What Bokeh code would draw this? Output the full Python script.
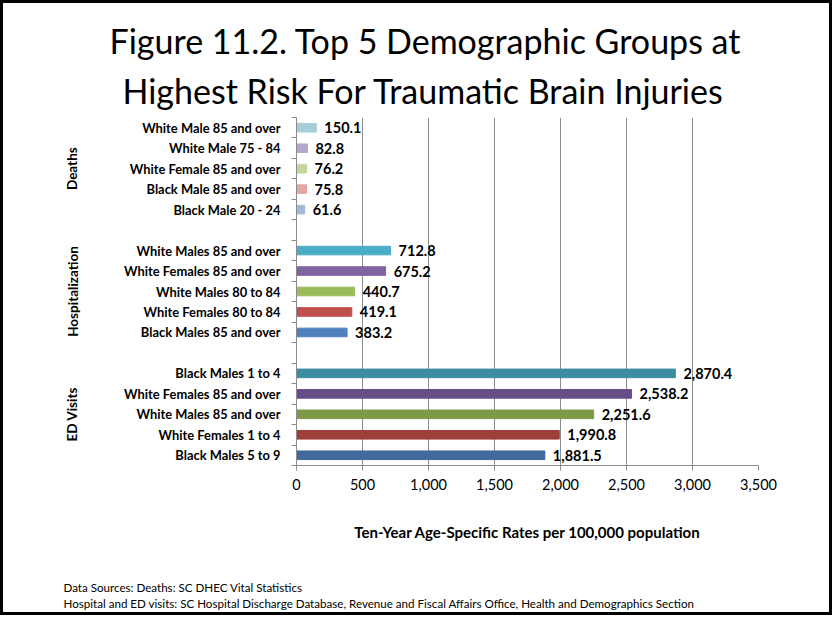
from bokeh.plotting import figure
from bokeh.models import (Range1d, FixedTicker, NumeralTickFormatter, Title,
                          LinearAxis, ColumnDataSource)
from bokeh.core.properties import value
from bokeh.embed import file_html
from bokeh.resources import INLINE

# ---------------- data ----------------
groups = ["Deaths", "Hospitalization", "ED Visits"]

deaths_labels = ["White Male 85 and over", "White Male 75 - 84",
                 "White Female 85 and over", "Black Male 85 and over",
                 "Black Male 20 - 24"]
deaths_values = [150.1, 82.8, 76.2, 75.8, 61.6]
deaths_colors = ["#A5CEDB", "#B4A9CB", "#C4D79D", "#E4A6A5", "#A7B9D9"]

hosp_labels = ["White Males 85 and over", "White Females 85 and over",
               "White Males 80 to 84", "White Females 80 to 84",
               "Black Males 85 and over"]
hosp_values = [712.8, 675.2, 440.7, 419.1, 383.2]
hosp_colors = ["#4BACC6", "#8064A2", "#9BBB59", "#C0504D", "#4F81BD"]

ed_labels = ["Black Males 1 to 4", "White Females 85 and over",
             "White Males 85 and over", "White Females 1 to 4",
             "Black Males 5 to 9"]
ed_values = [2870.4, 2538.2, 2251.6, 1990.8, 1881.5]
ed_colors = ["#3C8DA4", "#664D87", "#7F9A46", "#9E3F3C", "#41699E"]

x_ticks = [0, 500, 1000, 1500, 2000, 2500, 3000, 3500]
x_title = "Ten-Year Age-Specific Rates per 100,000 population"
title_lines = ["Figure 11.2. Top 5 Demographic Groups at",
               "Highest Risk For Traumatic Brain Injuries"]
source_lines = ["Data Sources:  Deaths:  SC DHEC Vital Statistics",
                "Hospital and ED visits:  SC Hospital Discharge Database, Revenue and Fiscal Affairs Office, Health and Demographics Section"]

# ---------------- rows (top group first, one blank row between groups) ----------------
group_data = [(deaths_labels, deaths_values, deaths_colors),
              (hosp_labels, hosp_values, hosp_colors),
              (ed_labels, ed_values, ed_colors)]
n_rows = sum(len(g[0]) for g in group_data) + len(group_data) - 1  # 17

ys, labels, vals, cols, group_centers = [], [], [], [], []
row = n_rows
for gl, gv, gc in group_data:
    start = row
    for lab, v, c in zip(gl, gv, gc):
        ys.append(row - 0.5); labels.append(lab); vals.append(v); cols.append(c)
        row -= 1
    group_centers.append((start + row) / 2.0)
    row -= 1

src = ColumnDataSource(dict(y=ys, v=vals, c=cols, lab=labels,
                            txt=[format(v, ",.1f") for v in vals]))

FONT = "Lato"
B = 3                                   # outer border width
W, H = 838 - 2 * B, 621 - 2 * B
FL, FR, FT, FB = 296 - B, 758 - B, 117 - B, 465 - B   # frame edges (canvas px)
XMAX = 3500
p = figure(width=W, height=H, output_backend="svg", toolbar_location=None,
           x_range=Range1d(0, XMAX), y_range=Range1d(0, n_rows),
           min_border_left=FL, min_border_right=W - FR,
           min_border_top=FT, min_border_bottom=H - FB,
           background_fill_color="white", border_fill_color="white")
p.outline_line_color = None
p.styles = {"border": f"{B}px solid black"}

p.hbar(y="y", right="v", left=0, height=0.42, color="c", source=src)
p.text(x="v", y="y", text="txt", source=src, x_offset=8,
       text_baseline="middle", text_align="left",
       text_font=value(FONT), text_font_style="bold", text_font_size="14.5px",
       text_color="black")

# grid
p.ygrid.grid_line_color = None
p.xgrid.ticker = FixedTicker(ticks=x_ticks)
p.xgrid.grid_line_color = "#8C8C8C"
p.xgrid.grid_line_width = 1

# x axis
xa = p.xaxis[0]
xa.ticker = FixedTicker(ticks=x_ticks)
xa.formatter = NumeralTickFormatter(format="0,0")
xa.axis_line_color = "#8C8C8C"
xa.major_tick_line_color = "#8C8C8C"
xa.major_tick_out = 5
xa.major_tick_in = 0
xa.minor_tick_line_color = None
xa.major_label_text_font = FONT
xa.major_label_text_font_size = "14.5px"
xa.major_label_text_color = "black"
xa.major_label_standoff = 8
xa.axis_label = x_title
xa.axis_label_text_font = FONT
xa.axis_label_text_font_style = "bold"
xa.axis_label_text_font_size = "15px"
xa.axis_label_text_color = "black"
xa.axis_label_standoff = 30

# y axis (category labels)
ya = p.yaxis[0]
ya.ticker = FixedTicker(ticks=ys, minor_ticks=list(range(n_rows + 1)))
ya.major_label_overrides = {float(y): lab for y, lab in zip(ys, labels)}
ya.axis_line_color = "#8C8C8C"
ya.major_tick_out = 0
ya.major_tick_in = 0
ya.minor_tick_out = 5
ya.minor_tick_in = 0
ya.minor_tick_line_color = "#8C8C8C"
ya.major_label_text_font = FONT
ya.major_label_text_font_style = "bold"
ya.major_label_text_font_size = "12.9px"
ya.major_label_text_color = "black"
ya.major_label_standoff = 11

# second left axis carrying the group names
ga = LinearAxis(ticker=FixedTicker(ticks=group_centers),
                major_label_overrides={float(c): g for c, g in zip(group_centers, groups)},
                major_label_orientation="parallel",
                axis_line_color=None, major_tick_line_color=None,
                minor_tick_line_color=None,
                major_label_text_font=FONT, major_label_text_font_style="bold",
                major_label_text_font_size="13.5px",
                major_label_text_color="black", major_label_standoff=35)
p.add_layout(ga, "left")

# blank spacer axis between the x-axis and the footnotes (white tick, no label)
spacer = LinearAxis(ticker=FixedTicker(ticks=[0]), axis_line_color=None,
                    major_tick_line_color="white", minor_tick_line_color=None,
                    major_tick_out=35, major_tick_in=0, major_label_standoff=0,
                    major_label_overrides={0: ""}, major_label_text_font_size="1px",
                    major_label_text_color=None)
p.add_layout(spacer, "below")

# footnotes, one two-line title
p.add_layout(Title(text="\n".join(source_lines), align="left", offset=63 - 296,
                   standoff=0, text_font=FONT, text_font_style="normal",
                   text_font_size="11.6px", text_line_height=1.3,
                   text_color="black"), "below")

# title (above): nearest line first
p.add_layout(Title(text=title_lines[1], align="left", offset=122 - 296,
                   standoff=14, text_line_height=0.8, text_font=FONT,
                   text_font_style="normal", text_font_size="34px",
                   text_color="black"), "above")
p.add_layout(Title(text=title_lines[0], align="left", offset=109 - 296,
                   standoff=0, text_font=FONT, text_font_style="normal",
                   text_font_size="34px", text_color="black"), "above")

open("out.html", "w").write(file_html(p, INLINE))
